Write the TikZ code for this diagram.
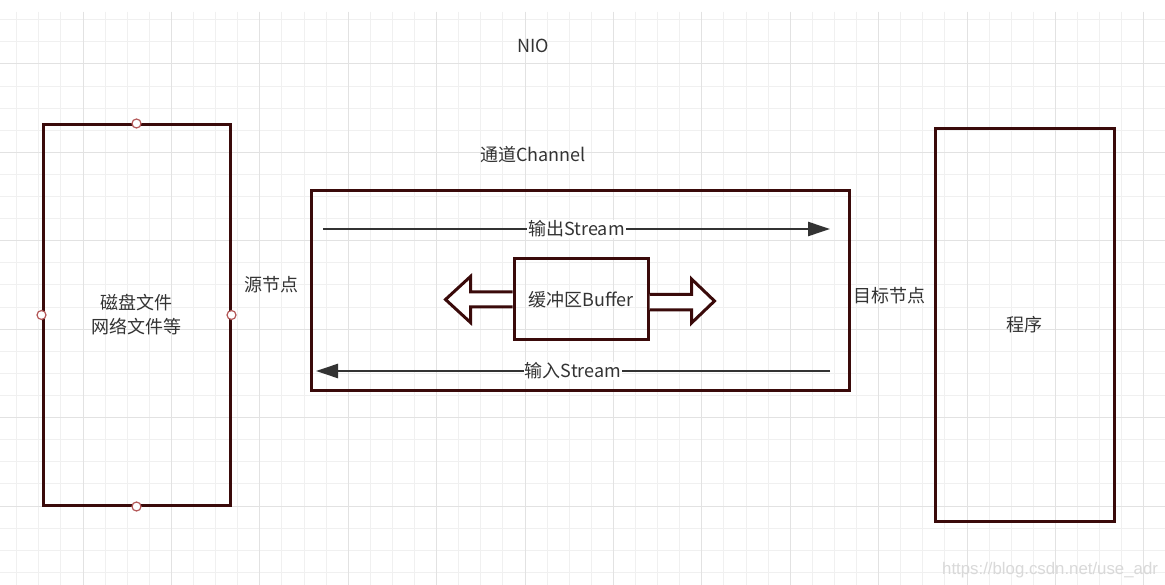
\documentclass[tikz,border=0pt]{standalone}
\usepackage{fontspec}
\setmainfont{Noto Sans CJK SC}
\newfontfamily\markfont{Liberation Sans}
\usetikzlibrary{arrows.meta}
\definecolor{boxline}{HTML}{3A0A0A}
\definecolor{arrowline}{HTML}{333333}
\definecolor{gridminor}{HTML}{F0F0F0}
\definecolor{gridmajor}{HTML}{E2E2E2}
\definecolor{txt}{HTML}{333333}

\begin{document}
\begin{tikzpicture}[x=1pt,y=-1pt,
    block/.style={draw=boxline,line width=3pt,inner sep=0pt},
    lbl/.style={text=txt,font=\fontsize{18}{24}\selectfont,inner sep=1pt},
    stream/.style={draw=arrowline,line width=2.5pt,-{Triangle[length=22pt,width=14pt]}},
    hollow/.style={draw=boxline,line width=3pt,fill=white},
    knob/.style={circle,draw=red!55!black!65,fill=white,line width=1.2pt,minimum size=9pt,inner sep=0pt}]
            \useasboundingbox (0,0) rectangle (1165,585);
            \fill[white] (0,0) rectangle (1165,585);
            % grid
            \foreach \i in {0,...,53} {\draw[gridminor,line width=1pt] ({-5.4+22.1*\i},12) -- ({-5.4+22.1*\i},585);}
            \foreach \j in {2,...,27} {\draw[gridminor,line width=1pt] (0,{-24.4+22.1*\j}) -- (1165,{-24.4+22.1*\j});}
            \foreach \i in {0,4,...,52} {\draw[gridmajor,line width=1pt] ({-5.4+22.1*\i},12) -- ({-5.4+22.1*\i},585);}
            \foreach \j in {4,8,...,24} {\draw[gridmajor,line width=1pt] (0,{-24.4+22.1*\j}) -- (1165,{-24.4+22.1*\j});}
            % boxes
            \node[block,lbl,align=center,minimum width=187pt,minimum height=380pt] (disk) at (136.5,315) {磁盘文件\\网络文件等};
            \node[block,minimum width=538pt,minimum height=199pt] (chan) at (580,290.5) {};
            \node[block,lbl,minimum width=134pt,minimum height=81pt] (buf) at (581,299.5) {缓冲区Buffer};
            \node[block,lbl,minimum width=179pt,minimum height=392pt] (prog) at (1024.5,325) {程序};
            \node[knob] (kn) at (disk.north) {};
            \node[knob] (ks) at (disk.south) {};
            \node[knob] (kw) at (disk.west) {};
            \node[knob] (ke) at (disk.east) {};
            % labels
            \node[lbl] (nio) at (533,46) {NIO};
            \node[lbl] (chanlbl) at (533,155) {通道Channel};
            \node[lbl] (src) at (271,285) {源节点};
            \node[lbl] (dst) at (889,296) {目标节点};
            % streams
            \coordinate (outA) at (323,229);
            \coordinate (outB) at (830,229);
            \coordinate (inA) at (830,371);
            \coordinate (inB) at (316,371);
            \draw[stream] (outA) -- node[lbl,fill=white] (outlbl) {输出Stream} (outB);
            \draw[stream] (inA) -- node[lbl,fill=white] (inlbl) {输入Stream} (inB);
            % buffer arrows
            \draw[hollow] (buf.west) ++(0,-7.5) -- ++(-42,0) -- ++(0,-15.5) -- ++(-25,23) -- ++(25,23) -- ++(0,-15.5) -- ++(42,0);
            \draw[hollow] (buf.east) ++(0,-5) -- ++(42,0) -- ++(0,-15.5) -- ++(23,22) -- ++(-23,22) -- ++(0,-13) -- ++(-42,0);
            % watermark
            \node[anchor=west,text=black!15,font=\markfont\fontsize{16.8}{20}\selectfont,inner sep=0pt] (mark) at (942,570) {https://blog.csdn.net/use\_adr};
        \end{tikzpicture}
\end{document}
